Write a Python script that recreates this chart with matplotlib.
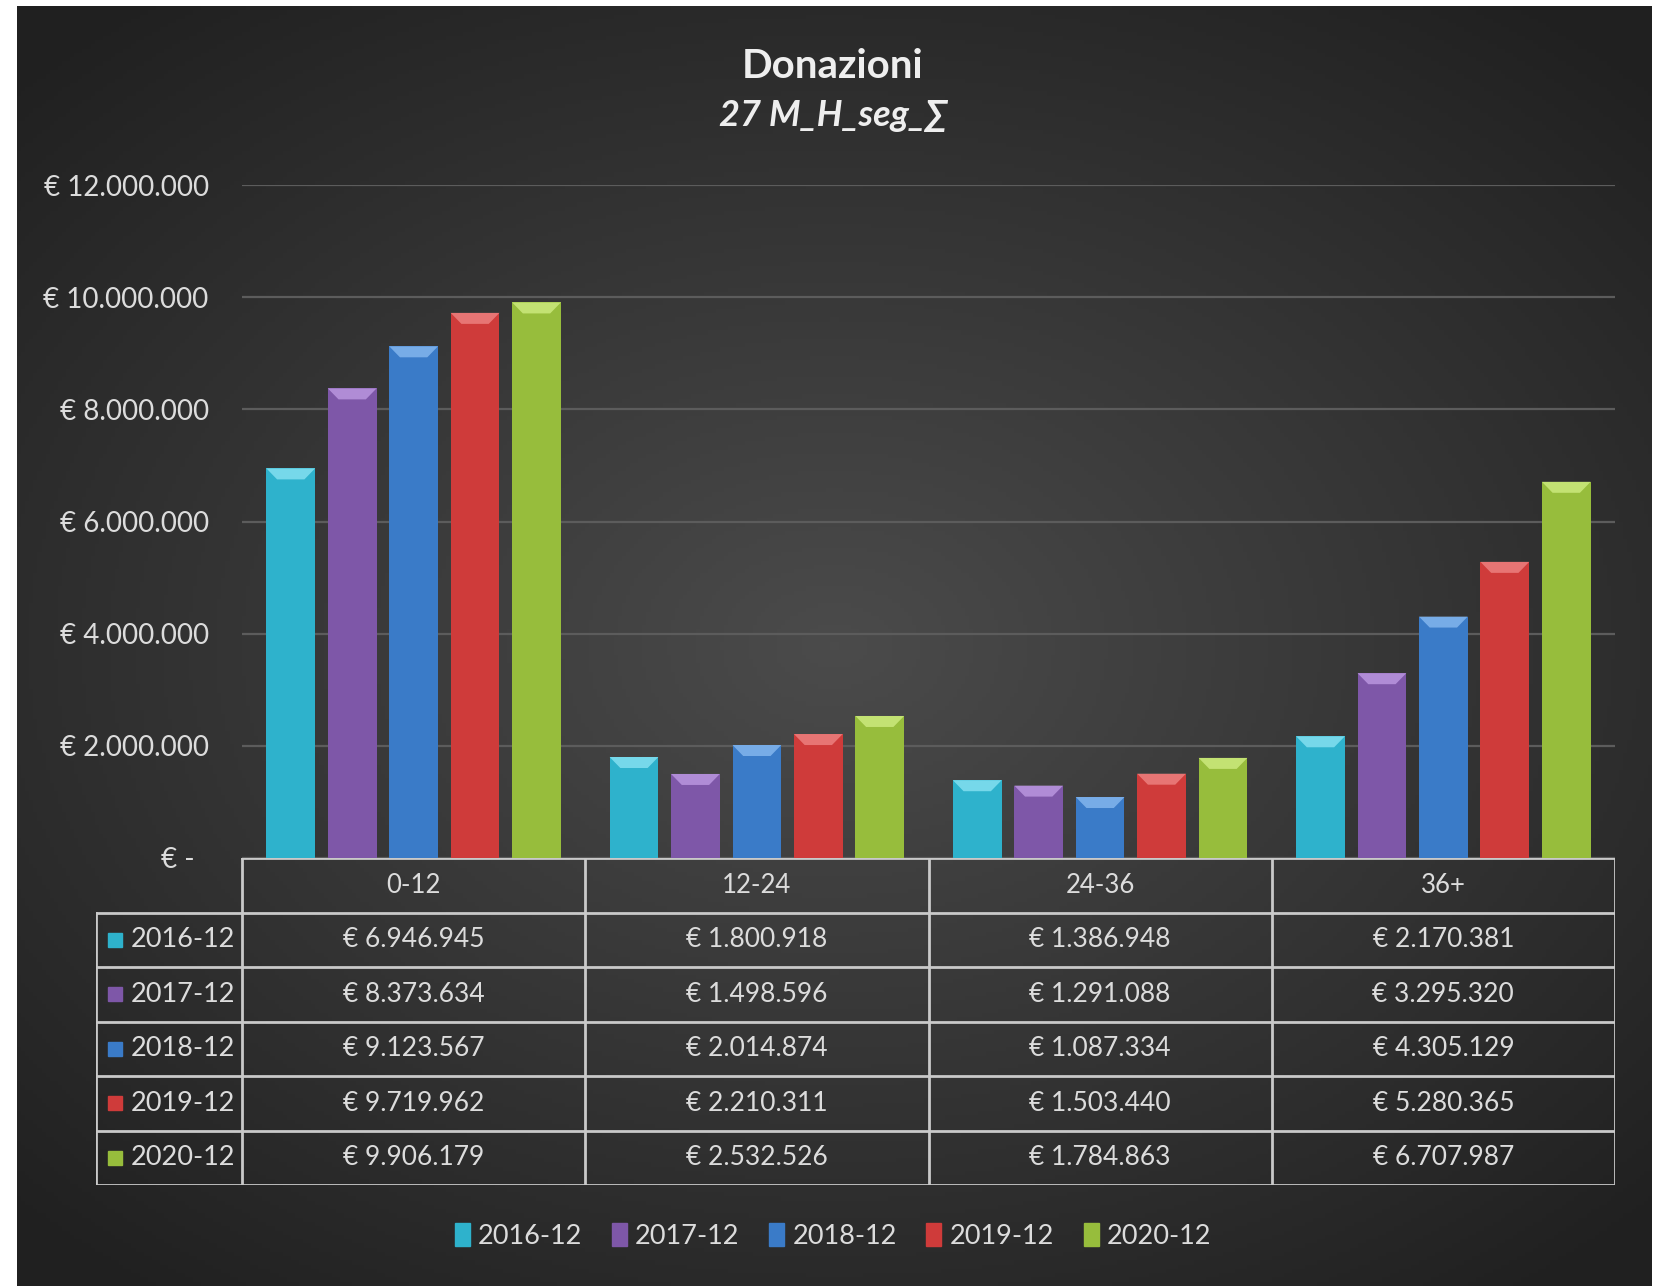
import matplotlib
matplotlib.use('Agg')
import matplotlib.pyplot as plt
import numpy as np
from matplotlib.patches import Patch, Polygon
from matplotlib.ticker import FuncFormatter

# data
categories = ['0-12', '12-24', '24-36', '36+']
series = ['2016-12', '2017-12', '2018-12', '2019-12', '2020-12']
v2016 = [6946945, 1800918, 1386948, 2170381]
v2017 = [8373634, 1498596, 1291088, 3295320]
v2018 = [9123567, 2014874, 1087334, 4305129]
v2019 = [9719962, 2210311, 1503440, 5280365]
v2020 = [9906179, 2532526, 1784863, 6707987]
values = [v2016, v2017, v2018, v2019, v2020]
yticks = [0, 2000000, 4000000, 6000000, 8000000, 10000000, 12000000]

colors = ['#2eb2cc', '#7e57a8', '#3a7bc8', '#cf3b3a', '#97bd3c']
tops = ['#8fe6f5', '#c29ee6', '#8dbdf2', '#f08a88', '#d3ef86']
txt = '#dcdcdc'
line = '#c9c9c9'

plt.rcParams['font.family'] = ['Lato', 'DejaVu Sans']

W, H = 1666, 1286
fig = plt.figure(figsize=(W / 100, H / 100), dpi=100, facecolor='white')


def euro(v):
    return '€ ' + f'{v:,}'.replace(',', '.')


# dark radial background
bg = fig.add_axes([17 / W, 0, (1652 - 17) / W, 1 - 6 / H])
gx, gy = np.meshgrid(np.linspace(-1, 1, 400), np.linspace(-1, 1, 300))
r = np.clip(np.sqrt(gx ** 2 + (gy * 1.1) ** 2), 0, 1.4)
shade = 0.295 - 0.12 * r
bg.imshow(np.dstack([shade] * 3), aspect='auto', extent=(0, 1, 0, 1))
bg.set_axis_off()

# bars
ax = fig.add_axes([242 / W, 1 - 858 / H, (1615 - 242) / W, (858 - 185) / H])
ax.patch.set_alpha(0)
x = np.arange(len(categories))
step, width = 0.179, 0.142
bev = 12000000 * 11 / 673
for i, (name, vals) in enumerate(zip(series, values)):
    pos = x + (i - 2) * step
    ax.bar(pos, vals, width, color=colors[i], zorder=3)
    for p, v in zip(pos, vals):
        x0, x1 = p - width / 2, p + width / 2
        d = width * 0.22
        ax.add_patch(Polygon([(x0, v), (x1, v), (x1 - d, v - bev), (x0 + d, v - bev)],
                             closed=True, color=tops[i], alpha=0.75, lw=0, zorder=4))

ax.set_xlim(-0.5, 3.5)
ax.set_ylim(0, 12000000)
ax.set_yticks(yticks)
ax.yaxis.set_major_formatter(FuncFormatter(lambda v, _: euro(int(v)) if v > 0 else '€ -  '))
ax.tick_params(axis='y', length=0, pad=24, labelsize=20, labelcolor=txt)
ax.set_xticks([])
ax.grid(axis='y', color='#5c5c5c', linewidth=1.6, zorder=0)
for s in ax.spines.values():
    s.set_visible(False)

fig.text(0.5, 1 - 66 / H, 'Donazioni', ha='center', va='center', fontsize=29,
         fontweight='bold', color='#eeeeee')
fig.text(0.5, 1 - 115 / H, '27 M_H_seg_∑', ha='center', va='center', fontsize=26,
         fontweight='bold', fontstyle='italic', color='#eeeeee',
         family=['Lato', 'DejaVu Sans'])

# data table below the plot
left = -0.5 - (242 - 96) / (1373 / 4)
tab = fig.add_axes([96 / W, 1 - 1185 / H, (1615 - 96) / W, (1185 - 858) / H])
tab.set_xlim(left, 3.5)
tab.set_ylim(6, 0)
tab.set_axis_off()
tab.patch.set_alpha(0)

lw = 2
tab.plot([-0.5, 3.5], [0, 0], color=line, lw=lw)
for k in range(1, 7):
    tab.plot([left, 3.5], [k, k], color=line, lw=lw)
tab.plot([left, left], [1, 6], color=line, lw=lw)
for xv in [-0.5, 0.5, 1.5, 2.5, 3.5]:
    tab.plot([xv, xv], [0, 6], color=line, lw=lw)

for j, c in enumerate(categories):
    tab.text(j, 0.5, c, ha='center', va='center', fontsize=18.5, color=txt)
for i, (name, vals) in enumerate(zip(series, values)):
    yy = i + 1.5
    tab.plot(left + 0.055, yy, marker='s', markersize=10, color=colors[i])
    tab.text(left + 0.1, yy, name, ha='left', va='center', fontsize=19.5, color=txt)
    for j, v in enumerate(vals):
        tab.text(j, yy, euro(v), ha='center', va='center', fontsize=19, color=txt)

handles = [Patch(color=c, label=s) for c, s in zip(colors, series)]
fig.legend(handles=handles, loc='center', bbox_to_anchor=(0.5, 1 - 1236 / H), ncol=5,
           frameon=False, fontsize=19.5, labelcolor=txt, handlelength=0.55,
           handleheight=0.9, handletextpad=0.3, columnspacing=1.1)

fig.savefig('out.png', dpi=100, facecolor='white')
